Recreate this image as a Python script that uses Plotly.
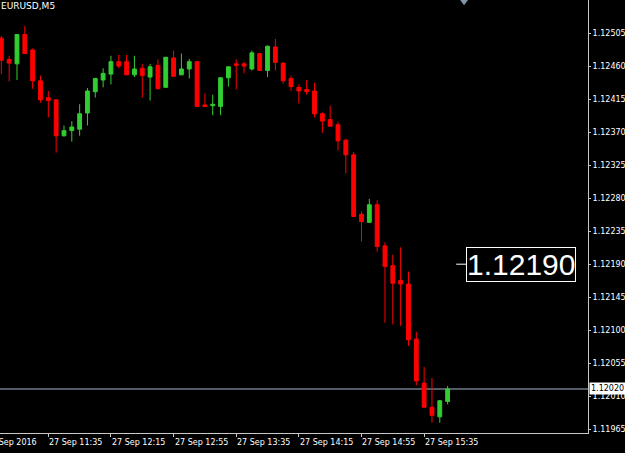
import plotly.graph_objects as go

symbol_title = "EURUSD,M5"

# bar index (M5 bars, first visible bar = 27 Sep 11:05)
bar_index = list(range(58))

opens = [1.12498, 1.12469, 1.12463, 1.12503, 1.12482, 1.12440, 1.12417, 1.12414, 1.12365, 1.12372,
         1.12374, 1.12396, 1.12425, 1.12441, 1.12449, 1.12466, 1.12466, 1.12448, 1.12457, 1.12445,
         1.12461, 1.12431, 1.12471, 1.12448, 1.12456, 1.12466, 1.12407, 1.12406, 1.12405, 1.12444,
         1.12463, 1.12463, 1.12456, 1.12477, 1.12454, 1.12486, 1.12464, 1.12443, 1.12431, 1.12428,
         1.12426, 1.12395, 1.12387, 1.12380, 1.12359, 1.12339, 1.12258, 1.12247, 1.12271, 1.12215,
         1.12188, 1.12168, 1.12163, 1.12088, 1.12028, 1.11995, 1.11982, 1.12003]
highs = [1.12501, 1.12474, 1.12503, 1.12515, 1.12484, 1.12447, 1.12426, 1.12414, 1.12379, 1.12385,
         1.12408, 1.12430, 1.12444, 1.12457, 1.12474, 1.12475, 1.12475, 1.12474, 1.12463, 1.12463,
         1.12469, 1.12472, 1.12481, 1.12477, 1.12470, 1.12466, 1.12423, 1.12421, 1.12445, 1.12459,
         1.12469, 1.12466, 1.12481, 1.12478, 1.12488, 1.12497, 1.12465, 1.12447, 1.12435, 1.12441,
         1.12437, 1.12397, 1.12406, 1.12384, 1.12361, 1.12343, 1.12262, 1.12279, 1.12277, 1.12220,
         1.12203, 1.12213, 1.12180, 1.12098, 1.12050, 1.12035, 1.12005, 1.12024]
lows = [1.12449, 1.12439, 1.12441, 1.12477, 1.12429, 1.12410, 1.12390, 1.12342, 1.12364, 1.12357,
        1.12365, 1.12379, 1.12417, 1.12431, 1.12435, 1.12457, 1.12448, 1.12445, 1.12417, 1.12413,
        1.12429, 1.12431, 1.12446, 1.12448, 1.12443, 1.12405, 1.12405, 1.12393, 1.12393, 1.12432,
        1.12428, 1.12450, 1.12454, 1.12454, 1.12445, 1.12454, 1.12436, 1.12426, 1.12409, 1.12421,
        1.12390, 1.12369, 1.12378, 1.12345, 1.12314, 1.12254, 1.12221, 1.12247, 1.12207, 1.12110,
        1.12108, 1.12106, 1.12079, 1.12025, 1.11995, 1.11974, 1.11974, 1.11999]
closes = [1.12468, 1.12464, 1.12503, 1.12477, 1.12440, 1.12414, 1.12413, 1.12365, 1.12372, 1.12377,
          1.12395, 1.12426, 1.12443, 1.12450, 1.12466, 1.12460, 1.12448, 1.12456, 1.12447, 1.12459,
          1.12429, 1.12472, 1.12446, 1.12456, 1.12466, 1.12405, 1.12405, 1.12408, 1.12444, 1.12459,
          1.12461, 1.12460, 1.12478, 1.12454, 1.12487, 1.12465, 1.12440, 1.12432, 1.12426, 1.12425,
          1.12395, 1.12385, 1.12378, 1.12358, 1.12339, 1.12255, 1.12248, 1.12271, 1.12214, 1.12187,
          1.12164, 1.12163, 1.12087, 1.12031, 1.11995, 1.11984, 1.12004, 1.12020]

# price axis ticks
price_ticks = [1.11965, 1.12010, 1.12055, 1.12100, 1.12145, 1.12190, 1.12235,
               1.12280, 1.12325, 1.12370, 1.12415, 1.12460, 1.12505]
price_tick_labels = ["1.11965", "1.12010", "1.12055", "1.12100", "1.12145", "1.12190", "1.12235",
                     "1.12280", "1.12325", "1.12370", "1.12415", "1.12460", "1.12505"]

# time axis labels (bar index of each label)
time_tick_index = [-2.1, 6, 14, 22, 30, 38, 46, 54]
time_tick_labels = ["27 Sep 2016", "27 Sep 11:35", "27 Sep 12:15", "27 Sep 12:55",
                    "27 Sep 13:35", "27 Sep 14:15", "27 Sep 14:55", "27 Sep 15:35"]

# price label object
label_price = 1.12190
label_text = "1.12190"

X_RANGE = [-0.17, 74.93]
Y_RANGE = [1.11960, 1.12550]
GREEN = "#32CD32"
RED = "#FF0000"
AXIS_COL = "#c8c8c8"
FONT = "DejaVu Sans"


def to_paper(xv):
    return (xv - X_RANGE[0]) / (X_RANGE[1] - X_RANGE[0])


fig = go.Figure()
fig.add_trace(go.Candlestick(
    x=bar_index, open=opens, high=highs, low=lows, close=closes,
    increasing=dict(line=dict(color=GREEN, width=1), fillcolor=GREEN),
    decreasing=dict(line=dict(color=RED, width=1), fillcolor=RED),
    whiskerwidth=0, hoverinfo="skip", showlegend=False,
))

shapes = [
    # bid line at last close
    dict(type="line", xref="paper", yref="y", x0=0, x1=1, y0=closes[-1], y1=closes[-1],
         line=dict(color="#6f7b88", width=1.5), layer="below"),
    # small line left of the price label
    dict(type="line", xref="paper", yref="y", x0=to_paper(58.1), x1=to_paper(59.35),
         y0=label_price, y1=label_price, line=dict(color="white", width=1)),
    # chart shift marker at top
    dict(type="path", xref="paper", yref="paper",
         path=f"M {to_paper(58.4)} 1.005 L {to_paper(59.1)} 0.988 L {to_paper(59.8)} 1.005 Z",
         fillcolor="#8496a8", line=dict(width=0)),
]

annotations = [
    dict(text=symbol_title, xref="paper", yref="paper", x=0, y=1, xanchor="left", yanchor="top",
         showarrow=False, font=dict(family=FONT, size=9, color="white"), xshift=-1, yshift=1),
    dict(text=label_text, xref="paper", yref="y", x=to_paper(59.35), y=label_price,
         xanchor="left", yanchor="middle", showarrow=False,
         font=dict(family="Liberation Sans", size=30, color="white"),
         bgcolor="black", bordercolor="white", borderwidth=1, borderpad=0),
    dict(text="1.12020", xref="paper", yref="y", x=1, y=closes[-1], xanchor="left",
         yanchor="middle", showarrow=False, xshift=1,
         font=dict(family=FONT, size=8, color="black"), bgcolor="white", borderpad=1),
]
for idx, txt in zip(time_tick_index, time_tick_labels):
    annotations.append(dict(text=txt, xref="paper", yref="paper", x=to_paper(idx), y=0,
                            xanchor="left", yanchor="top", showarrow=False, yshift=-3, xshift=-1,
                            font=dict(family=FONT, size=8, color="white")))

fig.update_layout(
    width=625, height=453,
    margin=dict(l=0, r=37, t=0, b=20),
    paper_bgcolor="black", plot_bgcolor="black",
    shapes=shapes, annotations=annotations,
    showlegend=False,
    xaxis=dict(range=X_RANGE, rangeslider=dict(visible=False), showgrid=False, zeroline=False,
               showline=True, linecolor=AXIS_COL, linewidth=1, automargin=False,
               tickvals=time_tick_index[1:], ticks="outside", ticklen=3, tickcolor=AXIS_COL,
               showticklabels=False, fixedrange=True),
    yaxis=dict(range=Y_RANGE, side="right", showgrid=False, zeroline=False,
               showline=True, linecolor=AXIS_COL, linewidth=1, automargin=False,
               tickvals=price_ticks, ticktext=price_tick_labels, ticks="outside", ticklen=2,
               tickcolor=AXIS_COL, tickfont=dict(family=FONT, size=8, color="white"),
               fixedrange=True),
)

fig.write_html("out.html")
